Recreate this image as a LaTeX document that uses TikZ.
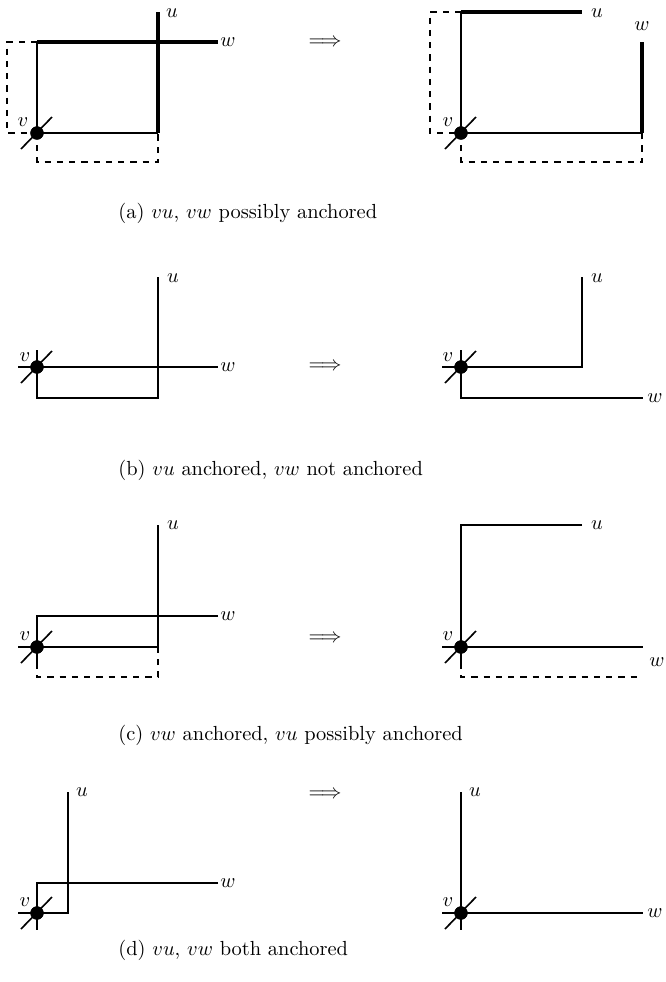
\documentclass[tikz,border=0pt]{standalone}
\begin{document}
\begin{tikzpicture}[x=0.49pt,y=-0.49pt,
  thinl/.style={line width=0.8pt},
  medl/.style={line width=1.3pt},
  thickl/.style={line width=2pt},
  dashl/.style={line width=0.8pt,dashed},
  vdot/.style={circle,fill=black,inner sep=0pt,minimum size=6.5pt},
  lbl/.style={inner sep=0pt},
  captext/.style={anchor=west,inner sep=0pt}]
\useasboundingbox (0,0) rectangle (666,982);

% ---------- (a) left ----------
\node[vdot] (av1) at (37,133) {};
\coordinate (a1tl) at (37,42);
\coordinate (a1br) at (158,133);
\coordinate (a1u) at (158,12);
\coordinate (a1w) at (218,42);
\draw[thinl] (a1tl) -- (av1.center) -- (a1br);
\draw[dashl] (a1tl) -- (7,42) -- (7,133) -- (av1.center);
\draw[dashl] (av1.center) -- (37,162) -- (158,162) -- (a1br);
\draw[thickl] (a1tl) -- (a1w);
\draw[thickl] (a1u) -- (a1br);
\draw[thinl] (21,149) -- (52,117);
\node[vdot] at (av1) {};
\node[lbl] (a1ul) at (172,13) {$u$};
\node[lbl] (a1wl) at (228,42) {$w$};
\node[lbl] (a1vl) at (23,122) {$v$};

\node (arra) at (325,43) {$\Longrightarrow$};

% ---------- (a) right ----------
\node[vdot] (av2) at (461,133) {};
\coordinate (a2tl) at (461,12);
\coordinate (a2u) at (582,12);
\coordinate (a2br) at (642,133);
\coordinate (a2w) at (642,42);
\draw[thinl] (a2tl) -- (av2.center) -- (a2br);
\draw[dashl] (a2tl) -- (430,12) -- (430,133) -- (av2.center);
\draw[dashl] (av2.center) -- (461,162) -- (642,162) -- (a2br);
\draw[thickl] (a2tl) -- (a2u);
\draw[thickl] (a2w) -- (a2br);
\draw[thinl] (445,149) -- (476,117);
\node[vdot] at (av2) {};
\node[lbl] (a2ul) at (597,13) {$u$};
\node[lbl] (a2wl) at (642,26) {$w$};
\node[lbl] (a2vl) at (448,122) {$v$};

\node[captext] (capa) at (118,213) {(a) $vu$, $vw$ possibly anchored};

% ---------- (b) left ----------
\node[vdot] (bv1) at (37,367) {};
\draw[medl] (18,367) -- (218,367);
\draw[medl] (158,277) -- (158,398) -- (37,398) -- (37,350);
\draw[thinl] (21,383) -- (52,351);
\node[vdot] at (bv1) {};
\node[lbl] (b1ul) at (173,278) {$u$};
\node[lbl] (b1wl) at (228,367) {$w$};
\node[lbl] (b1vl) at (25,357) {$v$};

\node (arrb) at (325,367) {$\Longrightarrow$};

% ---------- (b) right ----------
\node[vdot] (bv2) at (461,367) {};
\draw[medl] (442,367) -- (582,367) -- (582,277);
\draw[medl] (461,350) -- (461,398) -- (643,398);
\draw[thinl] (445,383) -- (476,351);
\node[vdot] at (bv2) {};
\node[lbl] (b2ul) at (597,278) {$u$};
\node[lbl] (b2wl) at (655,398) {$w$};
\node[lbl] (b2vl) at (448,357) {$v$};

\node[captext] (capb) at (118,470) {(b) $vu$ anchored, $vw$ not anchored};

% ---------- (c) left ----------
\node[vdot] (cv1) at (37,647) {};
\draw[medl] (18,647) -- (158,647) -- (158,525);
\draw[medl] (218,616) -- (37,616) -- (37,663);
\draw[dashl] (37,663) -- (37,677) -- (158,677) -- (158,647);
\draw[thinl] (21,663) -- (52,631);
\node[vdot] at (cv1) {};
\node[lbl] (c1ul) at (173,525) {$u$};
\node[lbl] (c1wl) at (228,616) {$w$};
\node[lbl] (c1vl) at (25,636) {$v$};

\node (arrc) at (325,639) {$\Longrightarrow$};

% ---------- (c) right ----------
\node[vdot] (cv2) at (461,647) {};
\draw[medl] (582,525) -- (461,525) -- (461,663);
\draw[medl] (442,647) -- (643,647);
\draw[dashl] (461,663) -- (461,677) -- (640,677);
\draw[thinl] (445,663) -- (476,631);
\node[vdot] at (cv2) {};
\node[lbl] (c2ul) at (597,525) {$u$};
\node[lbl] (c2wl) at (657,662) {$w$};
\node[lbl] (c2vl) at (448,636) {$v$};

\node[captext] (capc) at (118,735) {(c) $vw$ anchored, $vu$ possibly anchored};

% ---------- (d) left ----------
\node[vdot] (dv1) at (37,913) {};
\draw[medl] (68,792) -- (68,913) -- (18,913);
\draw[medl] (218,883) -- (37,883) -- (37,930);
\draw[thinl] (21,929) -- (52,897);
\node[vdot] at (dv1) {};
\node[lbl] (d1ul) at (82,792) {$u$};
\node[lbl] (d1wl) at (228,883) {$w$};
\node[lbl] (d1vl) at (25,902) {$v$};

\node (arrd) at (325,795) {$\Longrightarrow$};

% ---------- (d) right ----------
\node[vdot] (dv2) at (461,913) {};
\draw[medl] (461,792) -- (461,930);
\draw[medl] (442,913) -- (643,913);
\draw[thinl] (445,929) -- (476,897);
\node[vdot] at (dv2) {};
\node[lbl] (d2ul) at (475,792) {$u$};
\node[lbl] (d2wl) at (655,913) {$w$};
\node[lbl] (d2vl) at (448,902) {$v$};

\node[captext] (capd) at (118,950) {(d) $vu$, $vw$ both anchored};
\end{tikzpicture}
\end{document}
